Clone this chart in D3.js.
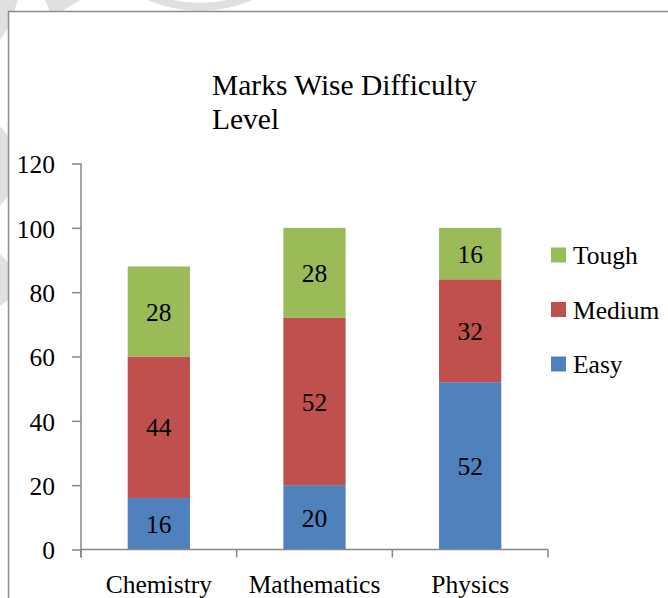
<!DOCTYPE html>
<html>
<head>
<meta charset="utf-8">
<script src="https://cdn.jsdelivr.net/npm/d3@7"></script>
<style>
  html, body { margin: 0; padding: 0; background: #fff; }
  svg { display: block; }
  text { font-family: "Liberation Serif", "DejaVu Serif", serif; fill: #000; }
</style>
</head>
<body>
<svg id="chart" width="668" height="598" font-family="Liberation Serif"></svg>
<script>
// ---- data ----
const categories = ["Chemistry", "Mathematics", "Physics"];
const seriesNames = ["Easy", "Medium", "Tough"];
const easy   = [16, 20, 52];
const medium = [44, 52, 32];
const tough  = [28, 28, 16];
const yTicks = [0, 20, 40, 60, 80, 100, 120];
const titleLines = ["Marks Wise Difficulty", "Level"];
const colors = ["#4F81BD", "#C0504D", "#9BBB59"];

const svg = d3.select("#chart");

// faint watermark pieces outside the chart frame
const wm = svg.append("g").attr("fill", "#e0e0e0");
const polys = [
  [[0,0],[18,0],[8,28],[0,40]],
  [[45,0],[80,0],[62,11],[50,11]],
  [[0,126],[8,136],[8,196],[0,206]],
  [[0,254],[8,262],[8,300],[0,306]]
];
polys.forEach(p => wm.append("path").attr("d", d3.line()(p) + "Z"));
wm.append("path")
  .attr("transform", "translate(200,-120)")
  .attr("d", d3.arc()({innerRadius: 123, outerRadius: 131, startAngle: Math.PI*0.72, endAngle: Math.PI*1.28}));

// chart frame
svg.append("rect")
  .attr("x", 8.5).attr("y", 11.5)
  .attr("width", 700).attr("height", 700)
  .attr("fill", "#fff").attr("stroke", "#8c8c8c").attr("stroke-width", 1.5);

// scales
const x = d3.scaleBand().domain(categories).range([81, 548]).paddingInner(0.6).paddingOuter(0.3);
const y = d3.scaleLinear().domain([0, 120]).range([549.5, 163.5]);

// stacked data
const table = categories.map((c, i) => ({cat: c, Easy: easy[i], Medium: medium[i], Tough: tough[i]}));
const stacked = d3.stack().keys(seriesNames)(table);

const fontSize = 25.5;

// bars
const layers = svg.append("g").selectAll("g").data(stacked).join("g")
  .attr("fill", (d, i) => colors[i]);
layers.selectAll("rect").data(d => d).join("rect")
  .attr("x", d => x(d.data.cat))
  .attr("width", x.bandwidth())
  .attr("y", d => y(d[1]))
  .attr("height", d => y(d[0]) - y(d[1]));

// data labels
layers.each(function(layer) {
  d3.select(this).selectAll("text").data(layer).join("text")
    .attr("x", d => x(d.data.cat) + x.bandwidth() / 2)
    .attr("y", d => (y(d[0]) + y(d[1])) / 2)
    .attr("dy", "0.36em")
    .attr("text-anchor", "middle")
    .attr("font-size", fontSize)
    .attr("font-family", "Liberation Serif")
    .attr("fill", "#000")
    .text(d => d[1] - d[0]);
});

// y axis
const yAxis = svg.append("g")
  .attr("transform", "translate(81,0)")
  .call(d3.axisLeft(y).tickValues(yTicks).tickSize(9).tickPadding(17).tickSizeOuter(0))
  .attr("font-family", "Liberation Serif");
yAxis.select(".domain").remove();
yAxis.selectAll(".tick line").attr("stroke", "#868686").attr("stroke-width", 1.5);
yAxis.selectAll(".tick text").attr("font-size", fontSize).attr("fill", "#000").attr("dy", "0.36em");
svg.append("line")
  .attr("x1", 81).attr("x2", 81).attr("y1", y(120)).attr("y2", y(0) + 8)
  .attr("stroke", "#868686").attr("stroke-width", 1.5);

// x axis
svg.append("line")
  .attr("x1", 81).attr("x2", 548).attr("y1", y(0)).attr("y2", y(0))
  .attr("stroke", "#868686").attr("stroke-width", 1.5);
const bounds = [x.range()[0]].concat(categories.map(c => x(c) + x.bandwidth() / 2 + x.step() / 2));
svg.append("g").selectAll("line").data(bounds).join("line")
  .attr("x1", d => d).attr("x2", d => d)
  .attr("y1", y(0)).attr("y2", y(0) + 8)
  .attr("stroke", "#868686").attr("stroke-width", 1.5);
const xAxis = svg.append("g")
  .attr("transform", `translate(0,${y(0)})`)
  .call(d3.axisBottom(x).tickSize(0).tickPadding(0))
  .attr("font-family", "Liberation Serif");
xAxis.select(".domain").remove();
xAxis.selectAll(".tick text")
  .attr("font-size", fontSize).attr("fill", "#000")
  .attr("dy", null).attr("y", 43);

// title
svg.append("g").selectAll("text").data(titleLines).join("text")
  .attr("x", 212)
  .attr("y", (d, i) => 95 + i * 34)
  .attr("font-size", 29.5)
  .text(d => d);

// legend
const legendNames = seriesNames.slice().reverse();
const legend = svg.append("g").selectAll("g").data(legendNames).join("g")
  .attr("transform", (d, i) => `translate(551,${247.5 + i * 54.5})`);
legend.append("rect").attr("width", 15).attr("height", 15)
  .attr("fill", d => colors[seriesNames.indexOf(d)]);
legend.append("text").attr("x", 22).attr("y", 7.5).attr("dy", "0.36em")
  .attr("font-size", fontSize).text(d => d);
</script>
</body>
</html>
